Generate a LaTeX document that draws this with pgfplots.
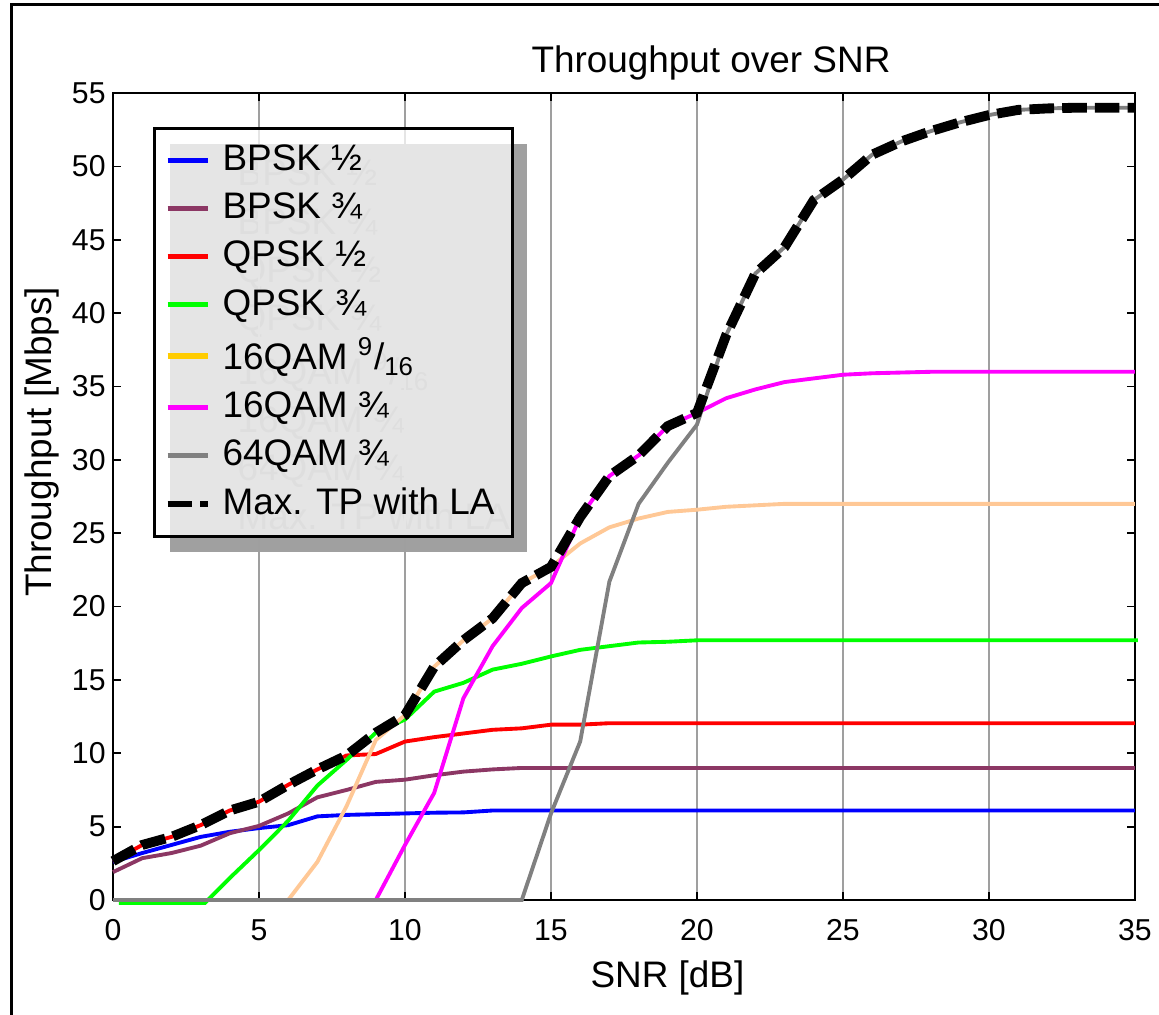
\documentclass[border=0pt]{standalone}
\usepackage{fontspec}
\setmainfont{Liberation Sans}
\usepackage{pgfplots}
\pgfplotsset{compat=1.18}

\definecolor{bpskq}{RGB}{140,55,100}
\definecolor{peach}{RGB}{255,200,150}
\definecolor{gold}{RGB}{255,204,0}
\definecolor{mag}{RGB}{255,0,255}
\definecolor{grn}{RGB}{0,255,0}
\definecolor{shadowgray}{RGB}{160,160,160}
\definecolor{ghosttext}{RGB}{135,135,135}

\pgfplotsset{
  frame/.style={scale only axis, width=10.22cm, height=8.07cm,
    at={(1.13cm,1.15cm)}, anchor=south west,
    xmin=0, xmax=35, ymin=0, ymax=55},
  lgd/.style={legend cell align=left,
    legend image code/.code={\draw[line width=1.5pt,##1] (0cm,0cm) -- (0.4cm,0cm);},
    legend style={at={(0.039,0.958)}, anchor=north west,
      font=\fontsize{10.5}{12}\selectfont,
      inner xsep=3pt, inner ysep=2.7pt, row sep=0.85pt, column sep=1.5pt}},
}

\begin{document}
\begin{tikzpicture}
% shadow of the legend
\begin{axis}[frame, hide axis, lgd,
  legend image code/.code={\path[draw=none, fill=none, opacity=0] (-0.75pt,-0.75pt) rectangle (0.4cm+0.75pt,0.75pt);},
  legend style={xshift=1.6mm, yshift=-1.6mm, fill=shadowgray, draw=none, text=ghosttext}]
\addlegendimage{black}\addlegendentry{BPSK ½}
\addlegendimage{black}\addlegendentry{BPSK ¾}
\addlegendimage{black}\addlegendentry{QPSK ½}
\addlegendimage{black}\addlegendentry{QPSK ¾}
\addlegendimage{black}\addlegendentry{16QAM \textsuperscript{9}/\textsubscript{16}}
\addlegendimage{black}\addlegendentry{16QAM ¾}
\addlegendimage{black}\addlegendentry{64QAM ¾}
\addlegendimage{black}\addlegendentry{Max. TP with LA}
\end{axis}

\begin{axis}[frame, lgd,
  legend style={fill=white, fill opacity=0.73, text opacity=1, draw=black, line width=0.9pt},
  xtick={0,5,...,35}, ytick={0,5,...,55},
  tick align=inside, major tick length=0.8mm,
  xmajorgrids, grid style={gray!75, line width=0.3pt},
  axis line style={line width=0.6pt},
  tick style={black, line width=0.5pt},
  tick label style={font=\fontsize{8.6}{10}\selectfont},
  xticklabel style={yshift=-0.7mm},
  yticklabel style={xshift=0.5mm},
  /pgf/number format/assume math mode=true,
  clip=false]
\addplot[blue, line width=1.1pt] coordinates {
  (0,2.6) (1,3.2) (2,3.75) (3,4.3) (4,4.65) (5,4.9) (6,5.1) (7,5.7) (8,5.8)
  (9,5.85) (10,5.9) (11,5.95) (12,5.97) (13,6.1) (35,6.1)};
\addlegendentry{BPSK ½}
\addplot[bpskq, line width=1.1pt] coordinates {
  (0,1.9) (1,2.85) (2,3.2) (3,3.7) (4,4.55) (5,5.05) (6,5.9) (7,7.0) (8,7.5)
  (9,8.05) (10,8.2) (11,8.5) (12,8.75) (13,8.9) (14,9.0) (35,9.0)};
\addlegendentry{BPSK ¾}
\addplot[red, line width=1.1pt] coordinates {
  (0,2.65) (1,3.75) (2,4.3) (3,5.1) (4,6.1) (5,6.7) (6,7.85) (7,8.9) (8,9.85)
  (9,9.95) (10,10.8) (11,11.1) (12,11.35) (13,11.6) (14,11.7) (15,11.95)
  (16,11.95) (17,12.05) (35,12.05)};
\addlegendentry{QPSK ½}
\addplot[grn, line width=1.1pt] coordinates {
  (0.2,-0.2) (3.15,-0.2) (4,1.5) (5,3.4) (6,5.4) (7,7.8) (8,9.55) (9,11.4)
  (10,12.3) (11,14.2) (12,14.8) (13,15.7) (14,16.1) (15,16.6) (16,17.05)
  (17,17.3) (18,17.55) (19,17.6) (20,17.7) (35.1,17.7)};
\addlegendentry{QPSK ¾}
\addplot[peach, line width=1.1pt, forget plot] coordinates {
  (0,0) (6,0) (7,2.6) (8,6.4) (9,10.9) (10,12.6) (11,15.9) (12,17.7) (13,19.2)
  (14,21.6) (15,22.7) (16,24.3) (17,25.4) (18,26.0) (19,26.45) (20,26.6)
  (21,26.8) (22,26.9) (23,27.0) (35,27.0)};
\addlegendimage{gold}
\addlegendentry{16QAM \textsuperscript{9}/\textsubscript{16}}
\addplot[mag, line width=1.1pt] coordinates {
  (0,0) (9,0) (10,3.75) (11,7.3) (12,13.75) (13,17.3) (14,19.9) (15,21.6)
  (16,26.1) (17,28.9) (18,30.3) (19,32.3) (20,33.2) (21,34.2) (22,34.8)
  (23,35.3) (24,35.55) (25,35.8) (26,35.9) (27,35.95) (28,36) (35,36)};
\addlegendentry{16QAM ¾}
\addplot[gray, line width=1.1pt] coordinates {
  (0,0) (14,0) (15,5.9) (16,10.8) (17,21.7) (18,27.0) (19,29.8) (20,32.4)
  (21,38.5) (22,42.7) (23,44.5) (24,47.7) (25,49.1) (26,50.8) (27,51.7)
  (28,52.4) (29,53.0) (30,53.5) (31,53.85) (32,53.95) (33,54) (35,54)};
\addlegendentry{64QAM ¾}
\addplot[black, line width=2.8pt, dash pattern=on 7pt off 2.3pt] coordinates {
  (0,2.65) (1,3.75) (2,4.3) (3,5.1) (4,6.1) (5,6.7) (6,7.85) (7,8.9) (8,9.85)
  (9,11.4) (10,12.6) (11,15.9) (12,17.7) (13,19.2) (14,21.6) (15,22.7)
  (16,26.1) (17,28.9) (18,30.3) (19,32.3) (20,33.2) (21,38.5) (22,42.7)
  (23,44.5) (24,47.7) (25,49.1) (26,50.8) (27,51.7) (28,52.4) (29,53.0)
  (30,53.5) (31,53.85) (32,53.95) (33,54) (35,54)};
\addlegendentry{Max. TP with LA}
\end{axis}

\draw[line width=0.3mm] (0.12cm,-1cm) -- (0.12cm,10.1cm) -- (13cm,10.1cm);
\node[anchor=base, font=\fontsize{10.5}{12}\selectfont] at (7.11cm,9.42cm) {Throughput over SNR};
\node[anchor=base, font=\fontsize{10.5}{12}\selectfont] at (6.675cm,0.27cm) {SNR [dB]};
\node[anchor=base, rotate=90, font=\fontsize{10.5}{12}\selectfont] at (0.52cm,5.73cm) {Throughput [Mbps]};

\pgfresetboundingbox
\useasboundingbox (0,0) rectangle (11.59cm,10.15cm);
\end{tikzpicture}
\end{document}
